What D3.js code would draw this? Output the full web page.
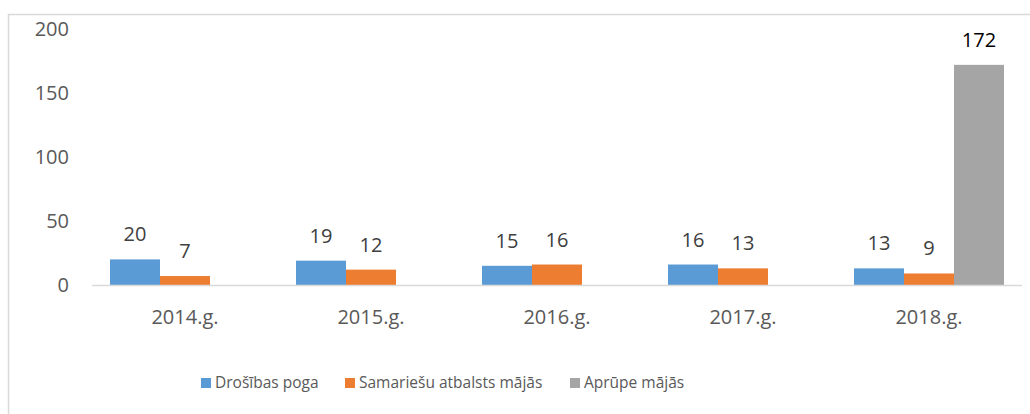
<!DOCTYPE html>
<html><head><meta charset="utf-8">
<script src="https://cdn.jsdelivr.net/npm/d3@7"></script>
<style>body{margin:0;background:#fff}svg{display:block}text{font-family:"Open Sans",Calibri,sans-serif}</style>
</head><body><svg id="c" width="1030" height="414"></svg>
<script>
const categories = ["2014.g.","2015.g.","2016.g.","2017.g.","2018.g."];
const seriesNames = ["Drošības poga","Samariešu atbalsts mājās","Aprūpe mājās"];
const drosibasPoga = [20,19,15,16,13];
const samariesuAtbalsts = [7,12,16,13,9];
const aprupeMajas = [null,null,null,null,172];
const yTicks = [0,50,100,150,200];
const colors = ["#5b9bd5","#ed7d31","#a5a5a5"];

const series = [drosibasPoga, samariesuAtbalsts, aprupeMajas];
const svg = d3.select("#c");
// chart border
svg.append("rect").attr("x",8.5).attr("y",14.5).attr("width",1030).attr("height",420)
  .attr("fill","none").attr("stroke","#d9d9d9").attr("stroke-width",1.5);

const x0 = d3.scaleBand().domain(categories).range([92,1022]).paddingInner(0).paddingOuter(0);
const x1 = d3.scaleBand().domain([0,1,2]).range([18, x0.bandwidth()-18]);
const y = d3.scaleLinear().domain([0,200]).range([285,29]);

// y tick labels
svg.append("g").selectAll("text").data(yTicks).join("text")
  .attr("x",69).attr("y",d=>y(d)).attr("dy","0.35em").attr("text-anchor","end")
  .attr("font-size",20).attr("fill","#595959").text(d=>d);

// bars
categories.forEach((c,i)=>{
  series.forEach((s,j)=>{
    const v = s[i];
    if(v==null) return;
    svg.append("rect").attr("x",x0(c)+x1(j)).attr("width",x1.bandwidth())
      .attr("y",y(v)).attr("height",y(0)-y(v)).attr("fill",colors[j]);
    svg.append("text").attr("x",x0(c)+x1(j)+x1.bandwidth()/2).attr("y",y(v)-25)
      .attr("dy","0.35em").attr("text-anchor","middle").attr("font-size",20)
      .attr("fill", j===2 ? "#000" : "#404040").text(v);
  });
});

// x axis line
svg.append("line").attr("x1",92).attr("x2",1022).attr("y1",y(0)+0.5).attr("y2",y(0)+0.5)
  .attr("stroke","#d9d9d9").attr("stroke-width",1.5);
svg.append("g").selectAll("text").data(categories).join("text")
  .attr("x",d=>x0(d)+x0.bandwidth()/2).attr("y",317).attr("dy","0.35em")
  .attr("text-anchor","middle").attr("font-size",20).attr("fill","#595959").text(d=>d);

// legend
const legX = [201,345,570];
const lg = svg.append("g");
seriesNames.forEach((n,j)=>{
  lg.append("rect").attr("x",legX[j]).attr("y",378).attr("width",10).attr("height",10).attr("fill",colors[j]);
  lg.append("text").attr("x",legX[j]+14).attr("y",383).attr("dy","0.35em")
    .attr("font-size",15.5).attr("fill","#595959").text(n);
});
</script></body></html>
